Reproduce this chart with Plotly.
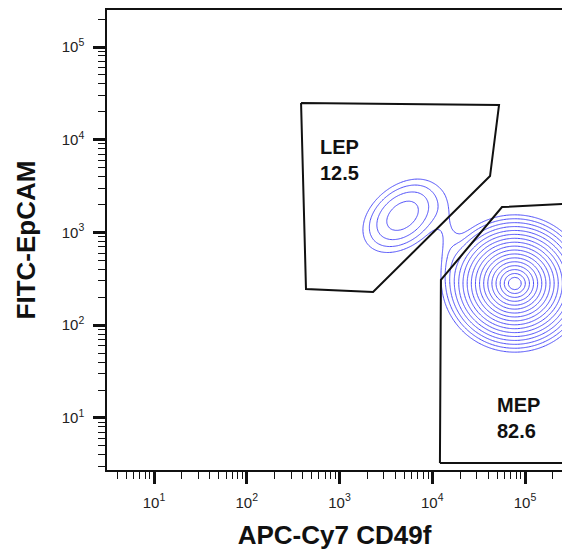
import numpy as np
import plotly.graph_objects as go

# ---- data (log10 units for populations) ----
pop_names = ["MEP", "LEP", "bridge"]
pop_cx = [4.89, 3.68, 4.17]      # log10 APC-Cy7 CD49f
pop_cy = [2.45, 3.18, 2.95]      # log10 FITC-EpCAM
pop_sx = [0.30, 0.27, 0.09]
pop_sy = [0.285, 0.25, 0.30]
pop_rho = [0.0, 0.38, 0.0]
pop_w = [1.0, 0.12, 0.022]

# gate polygons (linear values)
lep_gate_x = [385, 52500, 42000, 2300, 435, 385]
lep_gate_y = [24900, 23700, 4060, 228, 246, 24900]
mep_gate_x = [12100, 12400, 56500, 398000, 398000, 12100]
mep_gate_y = [3.27, 308, 1880, 2080, 3.27, 3.27]

gate_labels = ["LEP<br>12.5", "MEP<br>82.6"]
gate_label_x = [3.005, 4.925]   # log10 positions
gate_label_y = [3.78, 0.995]

major_ticks = [10, 100, 1000, 10000, 100000]
major_text = ["10<sup>1</sup>", "10<sup>2</sup>", "10<sup>3</sup>", "10<sup>4</sup>", "10<sup>5</sup>"]
minor_ticks = [m * 10 ** e for e in range(0, 6) for m in range(2, 10)]

contour_start, contour_end, contour_size = 0.23, 2.6, 0.148

# ---- density field ----
gx = np.arange(0.45, 5.5, 0.03)
gy = np.arange(0.40, 5.5, 0.03)
X, Y = np.meshgrid(gx, gy)
D = np.zeros_like(X)
for cx, cy, sx, sy, r, w in zip(pop_cx, pop_cy, pop_sx, pop_sy, pop_rho, pop_w):
    u = (X - cx) / sx
    v = (Y - cy) / sy
    q = (u * u - 2 * r * u * v + v * v) / (1 - r * r)
    D += w * np.exp(-0.5 * q)
Z = np.sqrt(2 * np.log(D.max() / np.maximum(D, 1e-300)))

fig = go.Figure()
fig.add_trace(go.Contour(
    x=10 ** gx, y=10 ** gy, z=Z,
    contours=dict(coloring="none", start=contour_start, end=contour_end, size=contour_size),
    line=dict(color="rgb(72,72,250)", width=1, smoothing=0),
    showscale=False, hoverinfo="skip",
))
fig.add_trace(go.Scatter(x=lep_gate_x, y=lep_gate_y, mode="lines",
                         line=dict(color="#111", width=2), hoverinfo="skip"))
fig.add_trace(go.Scatter(x=mep_gate_x, y=mep_gate_y, mode="lines",
                         line=dict(color="#111", width=2), hoverinfo="skip"))

for t, lx, ly in zip(gate_labels, gate_label_x, gate_label_y):
    fig.add_annotation(x=lx, y=ly, xref="x", yref="y", text=t, showarrow=False,
                       align="left", font=dict(family="Liberation Sans, Arial", size=20,
                                               color="#111", weight="bold"))

tickfont = dict(family="Liberation Sans, Arial", size=15, color="#222")
titlefont = dict(family="Liberation Sans, Arial", size=26, color="#111", weight="bold")
axis_common = dict(type="log", tickvals=major_ticks, ticktext=major_text,
                   ticks="outside", ticklen=12, tickwidth=3, tickcolor="#111",
                   showline=True, linewidth=1.5, linecolor="#111", automargin=False,
                   showgrid=False, zeroline=False, tickfont=tickfont,
                   minor=dict(tickvals=minor_ticks, ticks="outside", ticklen=7,
                              tickwidth=1, tickcolor="#111", showgrid=False))

fig.update_xaxes(**axis_common, range=[0.493, 5.399], mirror=True, ticklabelstandoff=6,
                 title=dict(text="APC-Cy7 CD49f", font=titlefont, standoff=16))
fig.update_yaxes(**axis_common, range=[0.439, 5.399], mirror=False, ticklabelstandoff=6,
                 title=dict(text="FITC-EpCAM", font=titlefont, standoff=19))

fig.update_layout(width=562, height=550, showlegend=False,
                  margin=dict(l=107, r=0, t=10, b=80),
                  plot_bgcolor="white", paper_bgcolor="white")
fig.write_html("out.html", config={"displayModeBar": False},
               post_script="document.body.style.margin='0';document.body.style.overflow='hidden';")
